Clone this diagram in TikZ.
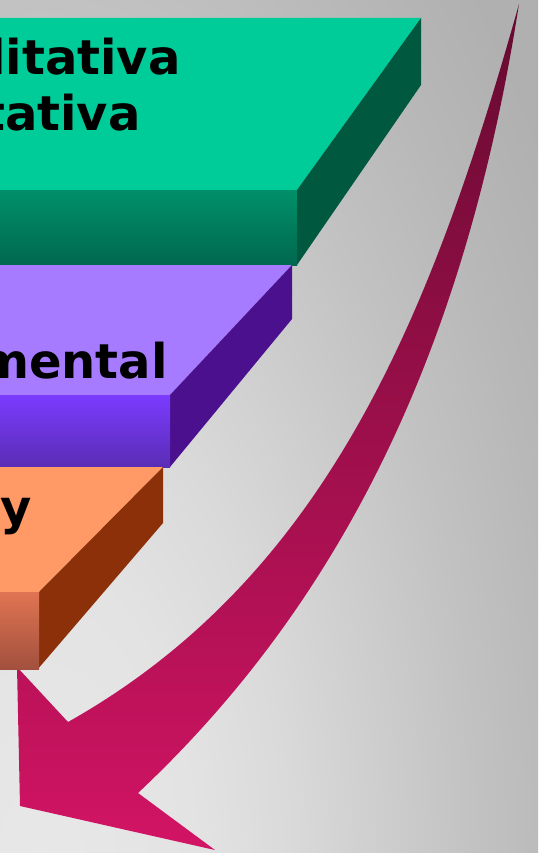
\documentclass[tikz,border=0pt]{standalone}
\usepackage{fontspec}
\setmainfont{DejaVu Sans}
\definecolor{bgA}{HTML}{E8E8E8}
\definecolor{bgB}{HTML}{E3E3E3}
\definecolor{bgC}{HTML}{DADADA}
\definecolor{bgD}{HTML}{CECECE}
\definecolor{bgE}{HTML}{C2C2C2}
\definecolor{bgF}{HTML}{B8B8B8}
\definecolor{bgG}{HTML}{B0B0B0}
\definecolor{gTop}{HTML}{00CC99}
\definecolor{gSide}{HTML}{00583F}
\definecolor{gFrontT}{HTML}{00906A}
\definecolor{gFrontB}{HTML}{00684F}
\definecolor{pTop}{HTML}{A67BFF}
\definecolor{pSide}{HTML}{4A108E}
\definecolor{pFrontT}{HTML}{7B3BFF}
\definecolor{pFrontB}{HTML}{5A2DB5}
\definecolor{oTop}{HTML}{FF9966}
\definecolor{oSide}{HTML}{8C300A}
\definecolor{oFrontT}{HTML}{E07452}
\definecolor{oFrontB}{HTML}{A2503E}
\definecolor{arrTop}{HTML}{650A30}
\definecolor{arrMid}{HTML}{B01252}
\definecolor{arrBot}{HTML}{D21464}
\pgfdeclareradialshading{bgshade}{\pgfpoint{0bp}{0bp}}{color(0bp)=(bgA); color(6.25bp)=(bgB); color(10bp)=(bgC); color(13.75bp)=(bgD); color(17.5bp)=(bgE); color(21.25bp)=(bgF); color(25bp)=(bgG); color(50bp)=(bgG)}
\begin{document}
\begin{tikzpicture}[x=1pt,y=-1pt,
  lbl/.style={inner sep=0pt, anchor=base west, text=black, font=\fontsize{48}{56}\selectfont\bfseries}]
\useasboundingbox (0,0) rectangle (538,853);
\begin{scope}
\clip (0,0) rectangle (538,853);
% background
\fill[bgG] (0,0) rectangle (538,853);
\shade[shading=bgshade] (-580,-370) rectangle (660,2130);
% curved arrow
\shade[top color=arrTop, middle color=arrMid, bottom color=arrBot]
  (519,4) .. controls (472,304) and (368,577) .. (138,793)
  -- (215,850) -- (20,806) -- (17,667) -- (68,722)
  .. controls (329,575) and (432.6,311) .. (519,4) -- cycle;
% green slab
\fill[gTop] (0,18) -- (421,18) -- (297,190) -- (0,190) -- cycle;
\fill[gSide] (297,190) -- (421,18) -- (421,85) -- (297,265) -- cycle;
\shade[top color=gFrontT, bottom color=gFrontB] (0,190) rectangle (297,265);
% purple slab
\fill[pTop] (0,265) -- (292,265) -- (170,395) -- (0,395) -- cycle;
\fill[pSide] (170,395) -- (292,265) -- (292,319) -- (170,467) -- cycle;
\shade[top color=pFrontT, bottom color=pFrontB] (0,395) rectangle (170,467);
% orange slab
\fill[oTop] (0,467) -- (163,467) -- (39,592) -- (0,592) -- cycle;
\fill[oSide] (39,592) -- (163,467) -- (163,523) -- (37,670) -- cycle;
\shade[top color=oFrontT, bottom color=oFrontB] (0,592) rectangle (39,669);
% texts
\node[lbl] (t1) at (-11,75) {litativa};
\node[lbl] (t2) at (-18,131) {tativa};
\node[lbl] (t3) at (-21,378) {mental};
\node[lbl] (t4) at (0,524) {y};
\end{scope}
\end{tikzpicture}
\end{document}
